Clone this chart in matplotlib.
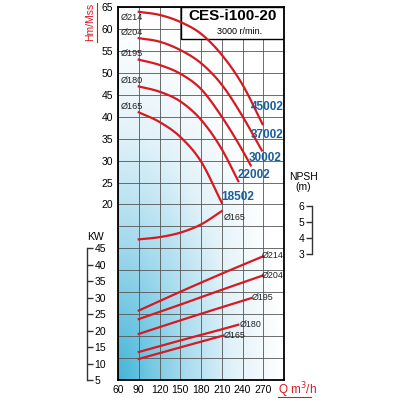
import numpy as np
import matplotlib
matplotlib.use('Agg')
import matplotlib.pyplot as plt
from matplotlib.colors import LinearSegmentedColormap
from matplotlib.patches import Rectangle
from matplotlib.lines import Line2D

plt.rcParams['font.family'] = ['Liberation Sans', 'DejaVu Sans']

# head curves H (m) vs Q (m3/h)
q_214 = [90, 120, 150, 180, 210, 240, 269]
h_214 = [63.9, 63.2, 61.6, 58.9, 54.1, 47.3, 38.3]
q_204 = [90, 120, 150, 180, 210, 240, 268]
h_204 = [57.9, 57.1, 55.2, 52.2, 47.3, 40.1, 32.3]
q_195 = [90, 120, 150, 180, 210, 240, 252]
h_195 = [53.0, 51.8, 49.8, 46.3, 40.0, 32.3, 28.9]
q_180 = [90, 120, 150, 180, 210, 234]
h_180 = [46.9, 45.7, 43.5, 39.3, 32.6, 25.3]
q_165 = [90, 120, 150, 180, 210]
h_165 = [41.0, 38.8, 35.4, 29.8, 20.4]

# power curves KW vs Q
p_q_214 = [90, 150, 210, 270]
p_214 = [26.1, 31.8, 37.3, 42.6]
p_q_204 = [90, 150, 210, 270]
p_204 = [23.5, 27.9, 32.4, 36.8]
p_q_195 = [90, 150, 210, 253]
p_195 = [19.0, 23.1, 27.1, 29.9]
p_q_180 = [90, 150, 210, 234]
p_180 = [13.5, 17.0, 20.4, 21.8]
p_q_165 = [90, 150, 212]
p_165 = [11.4, 14.9, 18.5]

# NPSH curve (m)
npsh_q = [90, 120, 150, 180, 210]
npsh = [3.93, 4.07, 4.35, 4.86, 5.69]

head_curves = [(q_214, h_214), (q_204, h_204), (q_195, h_195), (q_180, h_180), (q_165, h_165)]
power_curves = [(p_q_214, p_214), (p_q_204, p_204), (p_q_195, p_195), (p_q_180, p_180), (p_q_165, p_165)]
diam_names = ['Ø214', 'Ø204', 'Ø195', 'Ø180', 'Ø165']
motor_names = ['45002', '37002', '30002', '22002', '18502']

red = '#d71920'
blue = '#1b5e9c'


def smooth(x, y, n=80):
    # cubic hermite through the read points
    x = np.asarray(x, float)
    y = np.asarray(y, float)
    m = np.gradient(y, x)
    xs = np.linspace(x[0], x[-1], n)
    i = np.clip(np.searchsorted(x, xs) - 1, 0, len(x) - 2)
    h = x[i + 1] - x[i]
    s = (xs - x[i]) / h
    h00 = 2 * s ** 3 - 3 * s ** 2 + 1
    h10 = s ** 3 - 2 * s ** 2 + s
    h01 = -2 * s ** 3 + 3 * s ** 2
    h11 = s ** 3 - s ** 2
    ys = h00 * y[i] + h10 * h * m[i] + h01 * y[i + 1] + h11 * h * m[i + 1]
    return xs, ys


fig = plt.figure(figsize=(4, 4), dpi=100)
ax = fig.add_axes([0.295, 0.05, 0.415, 0.9325])
ax.set_xlim(60, 300)
ax.set_ylim(-20, 65)

# background gradient
u, v = np.meshgrid(np.linspace(0, 1, 200), np.linspace(0, 1, 200))
t = np.clip(np.sqrt(u ** 2 + (v * 1.05) ** 2), 0, 1)
cmap = LinearSegmentedColormap.from_list('bg', [(0, '#45b5d8'), (0.4, '#a6dbee'),
                                                (0.7, '#e2f2f9'), (1, 'white')])
ax.imshow(t, cmap=cmap, origin='lower', extent=(60, 300, -20, 65),
          aspect='auto', zorder=0, vmin=0, vmax=1)

ax.set_xticks(range(60, 301, 30))
ax.set_xticklabels([str(x) if x < 300 else '' for x in range(60, 301, 30)])
ax.set_yticks(range(-20, 66, 5))
ax.set_yticklabels([str(y) if y >= 20 else '' for y in range(-20, 66, 5)])
ax.tick_params(length=0, labelsize=7.5, pad=3.5)
ax.grid(True, color='#555555', lw=0.6, zorder=1)
ax.set_axisbelow(False)
for s in ax.spines.values():
    s.set_linewidth(1.3)
    s.set_zorder(5)

# title box
ax.add_patch(Rectangle((151.5, 57.7), 148.5, 7.3, facecolor='white',
                       edgecolor='black', lw=1.0, zorder=3))
ax.text(226, 63.0, 'CES-i100-20', ha='center', va='center', fontsize=11,
        fontweight='bold', zorder=4)
ax.text(236, 59.4, '3000 r/min.', ha='center', va='center', fontsize=6.5, zorder=4)

for qq, hh in head_curves:
    xs, ys = smooth(qq, hh)
    ax.plot(xs, ys, color=red, lw=1.6, zorder=4)

# diameter labels on head curves
for dn, yy in zip(diam_names, [62.6, 59.3, 54.3, 48.2, 42.3]):
    ax.text(64, yy, dn, fontsize=6.6, va='center', ha='left', color='#222222', zorder=4)

# motor labels
for mn, xx, yy in zip(motor_names, [300, 300, 297, 280, 257], [42.3, 35.9, 30.5, 26.8, 21.8]):
    ax.text(xx, yy, mn, fontsize=8.5, fontweight='bold', color=blue, ha='right', va='center',
            zorder=4)

# power axis
ax_kw = ax.twinx()
ax_kw.set_ylim(5, 5 + 85 / 0.75)
ax_kw.patch.set_visible(False)
for side in ['left', 'top', 'bottom']:
    ax_kw.spines[side].set_visible(False)
ax_kw.spines['right'].set_position(('axes', -0.187))
ax_kw.spines['right'].set_bounds(5, 45)
ax_kw.spines['right'].set_linewidth(1.0)
ax_kw.spines['right'].set_color('#333333')
ax_kw.set_yticks(range(5, 46, 5))
ax_kw.tick_params(axis='y', direction='out', length=4, width=1.0, color='#333333',
                  labelsize=7.5, pad=1.5)
for qq, pp in power_curves:
    xs, ys = smooth(qq, pp)
    ax_kw.plot(xs, ys, color=red, lw=1.6, zorder=4)
for dn, xx, yy in zip(diam_names, [268, 268, 253, 236, 213], [42.8, 36.8, 30.0, 22.0, 18.5]):
    ax_kw.text(xx, yy, dn, fontsize=6.4, va='center', ha='left', color='#222222',
               clip_on=False, zorder=6)

# NPSH axis
ax_np = ax.twinx()
n_lo = 3 - (8.64 + 20) / 3.66
ax_np.set_ylim(n_lo, n_lo + 85 / 3.66)
ax_np.patch.set_visible(False)
for side in ['right', 'top', 'bottom']:
    ax_np.spines[side].set_visible(False)
ax_np.spines['left'].set_visible(True)
ax_np.spines['left'].set_position(('axes', 1.169))
ax_np.spines['left'].set_bounds(3, 6)
ax_np.spines['left'].set_linewidth(1.0)
ax_np.spines['left'].set_color('#333333')
ax_np.yaxis.set_ticks_position('left')
ax_np.yaxis.set_label_position('left')
ax_np.set_yticks([3, 4, 5, 6])
ax_np.tick_params(axis='y', direction='out', length=4, width=1.0, color='#333333',
                  labelsize=7.5, pad=1.5)
xs, ys = smooth(npsh_q, npsh)
ax_np.plot(xs, ys, color=red, lw=1.6, zorder=4)
ax_np.text(213, 5.3, 'Ø165', fontsize=6.4, va='center', ha='left', color='#222222')

# axis titles
fig.text(90 / 400, 1 - 22 / 400, 'Hm/Mss', rotation=90, ha='center', va='center',
         color=red, fontsize=7.5)
fig.add_artist(Line2D([97 / 400, 97 / 400], [1 - 42 / 400, 1 - 3 / 400], color=red, lw=0.8))
fig.text(278 / 400, 1 - 390 / 400, 'Q m$^3$/h', ha='left', va='center', color=red, fontsize=8.5)
fig.add_artist(Line2D([278 / 400, 311 / 400], [1 - 397 / 400, 1 - 397 / 400], color=red, lw=0.8))
fig.text(95 / 400, 1 - 237 / 400, 'KW', ha='center', va='center', fontsize=7.5)
fig.text(303 / 400, 1 - 182 / 400, 'NPSH\n(m)', ha='center', va='center', fontsize=7.5,
         linespacing=1.1)

fig.savefig('out.png', dpi=100)
